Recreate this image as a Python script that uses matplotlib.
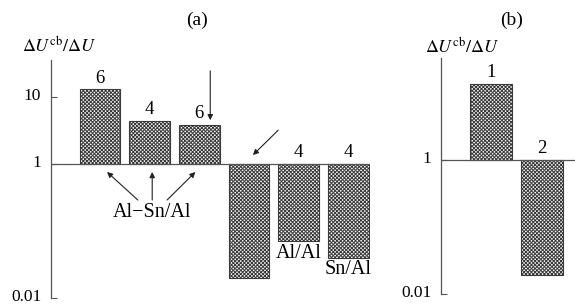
import matplotlib
matplotlib.use("Agg")
import matplotlib.pyplot as plt
from matplotlib.transforms import ScaledTranslation

plt.rcParams['font.family'] = ['Liberation Serif', 'DejaVu Serif']
plt.rcParams['mathtext.fontset'] = 'stix'
plt.rcParams['hatch.linewidth'] = 0.7

# panel (a)
values_a = [13.0, 4.4, 3.8, 0.020, 0.071, 0.040]
counts_a = ['6', '4', '6', '', '4', '4']
yticks_a = [0.01, 1, 10]
ytlabels_a = ['0.01', '1', '10']

# panel (b)
values_b = [13.5, 0.019]
counts_b = ['1', '2']
yticks_b = [0.01, 1]
ytlabels_b = ['0.01', '1']

W, H = 575, 305
fig = plt.figure(figsize=(W / 100, H / 100), dpi=100)

def px_axes(x0, x1, y_top, y_bot):
    return fig.add_axes([x0 / W, 1 - y_bot / H, (x1 - x0) / W, (y_bot - y_top) / H])

def setup(ax, yticks, ylabels, ytop):
    ax.set_yscale('log')
    ax.set_ylim(0.01, ytop)
    for s in ['top', 'right', 'bottom']:
        ax.spines[s].set_visible(False)
    ax.spines['left'].set_color('#555555')
    ax.spines['left'].set_linewidth(0.9)
    ax.set_xticks([])
    ax.set_yticks(yticks)
    ax.set_yticklabels(ylabels)
    ax.yaxis.set_minor_locator(matplotlib.ticker.NullLocator())
    ax.tick_params(axis='y', direction='in', length=4, width=0.8, color='#555555',
                   labelsize=12.5, pad=7)
    # labels sit a few pixels above their ticks in the original
    up = ScaledTranslation(0, 3 / 100, fig.dpi_scale_trans)
    for lab in ax.get_yticklabels():
        lab.set_transform(lab.get_transform() + up)
    ax.axhline(1, color='#555555', lw=0.9)

def draw_bars(ax, values, counts, width):
    xs = list(range(len(values)))
    heights = [v - 1 for v in values]
    ax.bar(xs, heights, bottom=1, width=width, facecolor='#f4f4f4',
           edgecolor='#3a3a3a', hatch='x' * 9, lw=0.8)
    for x, v, c in zip(xs, values, counts):
        if not c:
            continue
        top = max(v, 1)
        ax.annotate(c, (x, top), xytext=(0, 2), textcoords='offset points',
                    ha='center', va='bottom', fontsize=13.5)

# ---- (a)
ax = px_axes(51, 370, 60, 298)
setup(ax, yticks_a, ytlabels_a, 10 ** ((164 - 60) / 67))
ax.set_xlim(-0.99, 5.44)
draw_bars(ax, values_a, counts_a, 0.82)

arrow = dict(arrowstyle='-|>', color='#222222', lw=0.8, mutation_scale=8,
             shrinkA=0, shrinkB=0)
ax.annotate('', xy=(2.22, 4.5), xytext=(2.22, 24.5), arrowprops=arrow)
ax.annotate('', xy=(3.08, 1.36), xytext=(3.59, 3.2), arrowprops=arrow)
ax.text(1.05, 0.19, 'Al\u2212Sn/Al', ha='center', va='center', fontsize=14.5)
for tip, tail in [(0.14, 0.76), (1.05, 1.05), (1.92, 1.35)]:
    ax.annotate('', xy=(tip, 0.76), xytext=(tail, 0.29), arrowprops=arrow)
ax.annotate('Al/Al', (4, values_a[4]), xytext=(0, -2), textcoords='offset points',
            ha='center', va='top', fontsize=14.5)
ax.annotate('Sn/Al', (5, values_a[5]), xytext=(0, -2), textcoords='offset points',
            ha='center', va='top', fontsize=14.5)

fig.text(197 / W, 1 - 20 / H, '(a)', ha='center', va='center', fontsize=14)
fig.text(59 / W, 1 - 46 / H, r'$\Delta U^{\rm cb}/\Delta U$', ha='center',
         va='center', fontsize=13)

# ---- (b)
bx = px_axes(441, 575, 58, 294)
setup(bx, yticks_b, ytlabels_b, 10 ** ((160 - 58) / 67))
bx.set_xlim(-0.98, 1.65)
draw_bars(bx, values_b, counts_b, 0.82)

fig.text(512 / W, 1 - 20 / H, '(b)', ha='center', va='center', fontsize=14)
fig.text(462 / W, 1 - 47 / H, r'$\Delta U^{\rm cb}/\Delta U$', ha='center',
         va='center', fontsize=13)

fig.savefig('out.png', dpi=100)
